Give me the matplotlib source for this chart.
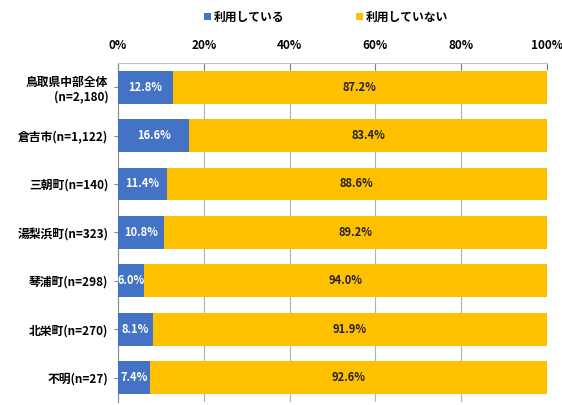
import matplotlib
matplotlib.use("Agg")
import matplotlib.pyplot as plt

plt.rcParams['font.family'] = ['Noto Sans CJK JP', 'DejaVu Sans']

categories = ["鳥取県中部全体\n(n=2,180)", "倉吉市(n=1,122)", "三朝町(n=140)",
              "湯梨浜町(n=323)", "琴浦町(n=298)", "北栄町(n=270)", "不明(n=27)"]
using = [12.8, 16.6, 11.4, 10.8, 6.0, 8.1, 7.4]
not_using = [87.2, 83.4, 88.6, 89.2, 94.0, 91.9, 92.6]
series_names = ["利用している", "利用していない"]
xticks = [0, 20, 40, 60, 80, 100]

blue = "#4472C4"
yellow = "#FFC000"

fig = plt.figure(figsize=(5.62, 4.05), dpi=100)
ax = fig.add_axes([0.21, 0.007, 0.763, 0.838])

y = list(range(len(categories)))
h = 0.68
b1 = ax.barh(y, using, height=h, color=blue, label=series_names[0], zorder=3)
b2 = ax.barh(y, not_using, left=using, height=h, color=yellow, label=series_names[1], zorder=3)

for i in y:
    ax.text(using[i] / 2, i, f"{using[i]:.1f}%", ha="center", va="center",
            color="white", fontsize=8, fontweight="bold", zorder=4)
    ax.text(using[i] + not_using[i] / 2, i, f"{not_using[i]:.1f}%", ha="center",
            va="center", color="#222222", fontsize=8, fontweight="bold", zorder=4)

ax.set_xlim(0, 100)
ax.set_ylim(len(categories) - 0.5, -0.5)
ax.set_yticks(y)
ax.set_yticklabels(categories, fontsize=8.5, fontweight="bold")
ax.set_xticks(xticks)
ax.set_xticklabels([f"{t}%" for t in xticks], fontsize=8.5, fontweight="bold")
ax.xaxis.tick_top()
ax.tick_params(axis="x", direction="in", length=5, color="#808080", width=0.8, pad=8)
ax.tick_params(axis="y", length=3, color="#888888", pad=4)
ax.grid(axis="x", color="#b0b0b0", linewidth=0.8, zorder=0)
for s in ["right", "bottom"]:
    ax.spines[s].set_visible(False)
ax.spines["top"].set_color("#c4c4c4")
ax.spines["left"].set_color("#888888")

leg = fig.legend(handles=[b1, b2], loc="upper center", bbox_to_anchor=(0.58, 1.0),
                 ncol=2, frameon=False, fontsize=8.5, handlelength=0.6,
                 handleheight=0.6, handletextpad=0.3, columnspacing=6)
for t in leg.get_texts():
    t.set_fontweight("bold")

fig.savefig("out.png", dpi=100)
